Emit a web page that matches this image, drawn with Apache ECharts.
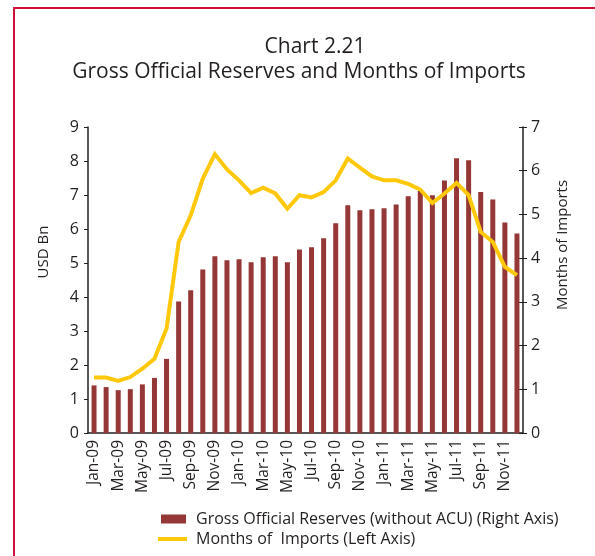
<!DOCTYPE html>
<html>
<head>
<meta charset="utf-8">
<style>
  html, body { margin: 0; padding: 0; background: #fff; }
  #frame {
    position: absolute; left: 13px; top: 7px; width: 600px; height: 560px;
    border-left: 2.5px solid #d0103a; border-top: 2.5px solid #d0103a;
    box-sizing: border-box;
  }
  #chart { position: absolute; left: 0; top: 0; width: 595px; height: 556px; }
</style>
<script src="https://cdn.jsdelivr.net/npm/echarts@6/dist/echarts.min.js"></script>
</head>
<body>
<div id="frame"></div>
<div id="chart"></div>
<script>
// Monthly categories, Jan-09 .. Dec-11
const months = [
  'Jan-09','Feb-09','Mar-09','Apr-09','May-09','Jun-09','Jul-09','Aug-09','Sep-09','Oct-09','Nov-09','Dec-09',
  'Jan-10','Feb-10','Mar-10','Apr-10','May-10','Jun-10','Jul-10','Aug-10','Sep-10','Oct-10','Nov-10','Dec-10',
  'Jan-11','Feb-11','Mar-11','Apr-11','May-11','Jun-11','Jul-11','Aug-11','Sep-11','Oct-11','Nov-11','Dec-11'
];

// Gross official reserves, USD bn
const reserves = [
  1.40, 1.35, 1.26, 1.29, 1.43, 1.62, 2.18, 3.87, 4.20, 4.81, 5.20, 5.08,
  5.11, 5.02, 5.17, 5.20, 5.02, 5.40, 5.46, 5.73, 6.17, 6.70, 6.55, 6.58,
  6.61, 6.72, 6.96, 7.12, 6.99, 7.43, 8.08, 8.02, 7.09, 6.87, 6.19, 5.87
];

// Reserves in months of imports
const monthsOfImports = [
  1.27, 1.27, 1.19, 1.28, 1.47, 1.70, 2.39, 4.37, 4.98, 5.82, 6.38, 6.03,
  5.78, 5.49, 5.61, 5.48, 5.13, 5.44, 5.39, 5.51, 5.78, 6.28, 6.07, 5.87,
  5.78, 5.78, 5.70, 5.57, 5.26, 5.48, 5.72, 5.44, 4.60, 4.37, 3.80, 3.61
];

const usdTicks = [0, 9, 1];   // min, max, step
const moiTicks = [0, 7, 1];

const reservesName = 'Gross Official Reserves (without ACU) (Right Axis)';
const moiName = 'Months of  Imports (Left Axis)';

const FONT = 'Open Sans';
const INK = '#231f20';
const BAR = '#963737';
const GOLD = '#ffc80a';

const chart = echarts.init(document.getElementById('chart'), null, { renderer: 'canvas' });

chart.setOption({
  animation: false,
  textStyle: { fontFamily: FONT, color: INK },
  title: [
    { text: 'Chart 2.21', left: 310, top: 32, textAlign: 'center',
      textStyle: { fontFamily: FONT, fontWeight: 'normal', fontSize: 21, color: INK } },
    { text: 'Gross Official Reserves and Months of Imports', left: 294, top: 57, textAlign: 'center',
      textStyle: { fontFamily: FONT, fontWeight: 'normal', fontSize: 21, color: INK } }
  ],
  legend: [
    { data: [reservesName], orient: 'vertical', left: 156, top: 506,
      icon: 'rect', itemWidth: 25, itemHeight: 9,
      textStyle: { fontFamily: FONT, fontSize: 16, color: INK, padding: [0, 0, 0, 5] } },
    { data: [moiName], orient: 'vertical', left: 153, top: 526,
      icon: 'rect', itemWidth: 29, itemHeight: 4,
      textStyle: { fontFamily: FONT, fontSize: 16, color: INK, padding: [0, 0, 0, 4] } }
  ],
  grid: { left: 88, right: 72, top: 127, bottom: 123, containLabel: false },
  xAxis: {
    type: 'category', data: months, boundaryGap: true,
    axisLine: { lineStyle: { color: INK, width: 1.5 } },
    axisTick: { interval: 0, length: 4, lineStyle: { color: INK } },
    axisLabel: { interval: 1, rotate: 90, fontSize: 15.5, color: INK, fontFamily: FONT, margin: 7 }
  },
  yAxis: [
    { type: 'value', min: usdTicks[0], max: usdTicks[1], interval: usdTicks[2], position: 'left',
      name: 'USD Bn', nameLocation: 'middle', nameGap: 37, nameRotate: 90,
      nameTextStyle: { fontSize: 15, color: INK, fontFamily: FONT, padding: [0, 0, 0, 56] },
      axisLine: { show: true, lineStyle: { color: INK, width: 1.5 } },
      axisTick: { show: true, length: 4, lineStyle: { color: INK } },
      axisLabel: { fontSize: 16, color: INK, margin: 9, fontFamily: FONT },
      splitLine: { show: false } },
    { type: 'value', min: moiTicks[0], max: moiTicks[1], interval: moiTicks[2], position: 'right',
      name: 'Months of Imports', nameLocation: 'middle', nameGap: 32, nameRotate: 90,
      nameTextStyle: { fontSize: 15, color: INK, fontFamily: FONT, padding: [0, 0, 0, 70] },
      axisLine: { show: true, lineStyle: { color: INK, width: 1.5 } },
      axisTick: { show: true, length: 4, lineStyle: { color: INK } },
      axisLabel: { fontSize: 16, color: INK, margin: 8, fontFamily: FONT },
      splitLine: { show: false } },
    { type: 'value', min: moiTicks[0], max: moiTicks[1], interval: moiTicks[2], position: 'right',
      axisLine: { show: false },
      axisTick: { show: true, inside: true, length: 4, lineStyle: { color: INK } },
      axisLabel: { show: false }, splitLine: { show: false } }
  ],
  series: [
    { name: reservesName, type: 'bar', yAxisIndex: 0, data: reserves,
      barWidth: 5, itemStyle: { color: BAR } },
    { name: moiName, type: 'line', yAxisIndex: 1, data: monthsOfImports,
      symbol: 'none', lineStyle: { color: GOLD, width: 4, join: 'miter' },
      itemStyle: { color: GOLD } }
  ]
});
</script>
</body>
</html>
